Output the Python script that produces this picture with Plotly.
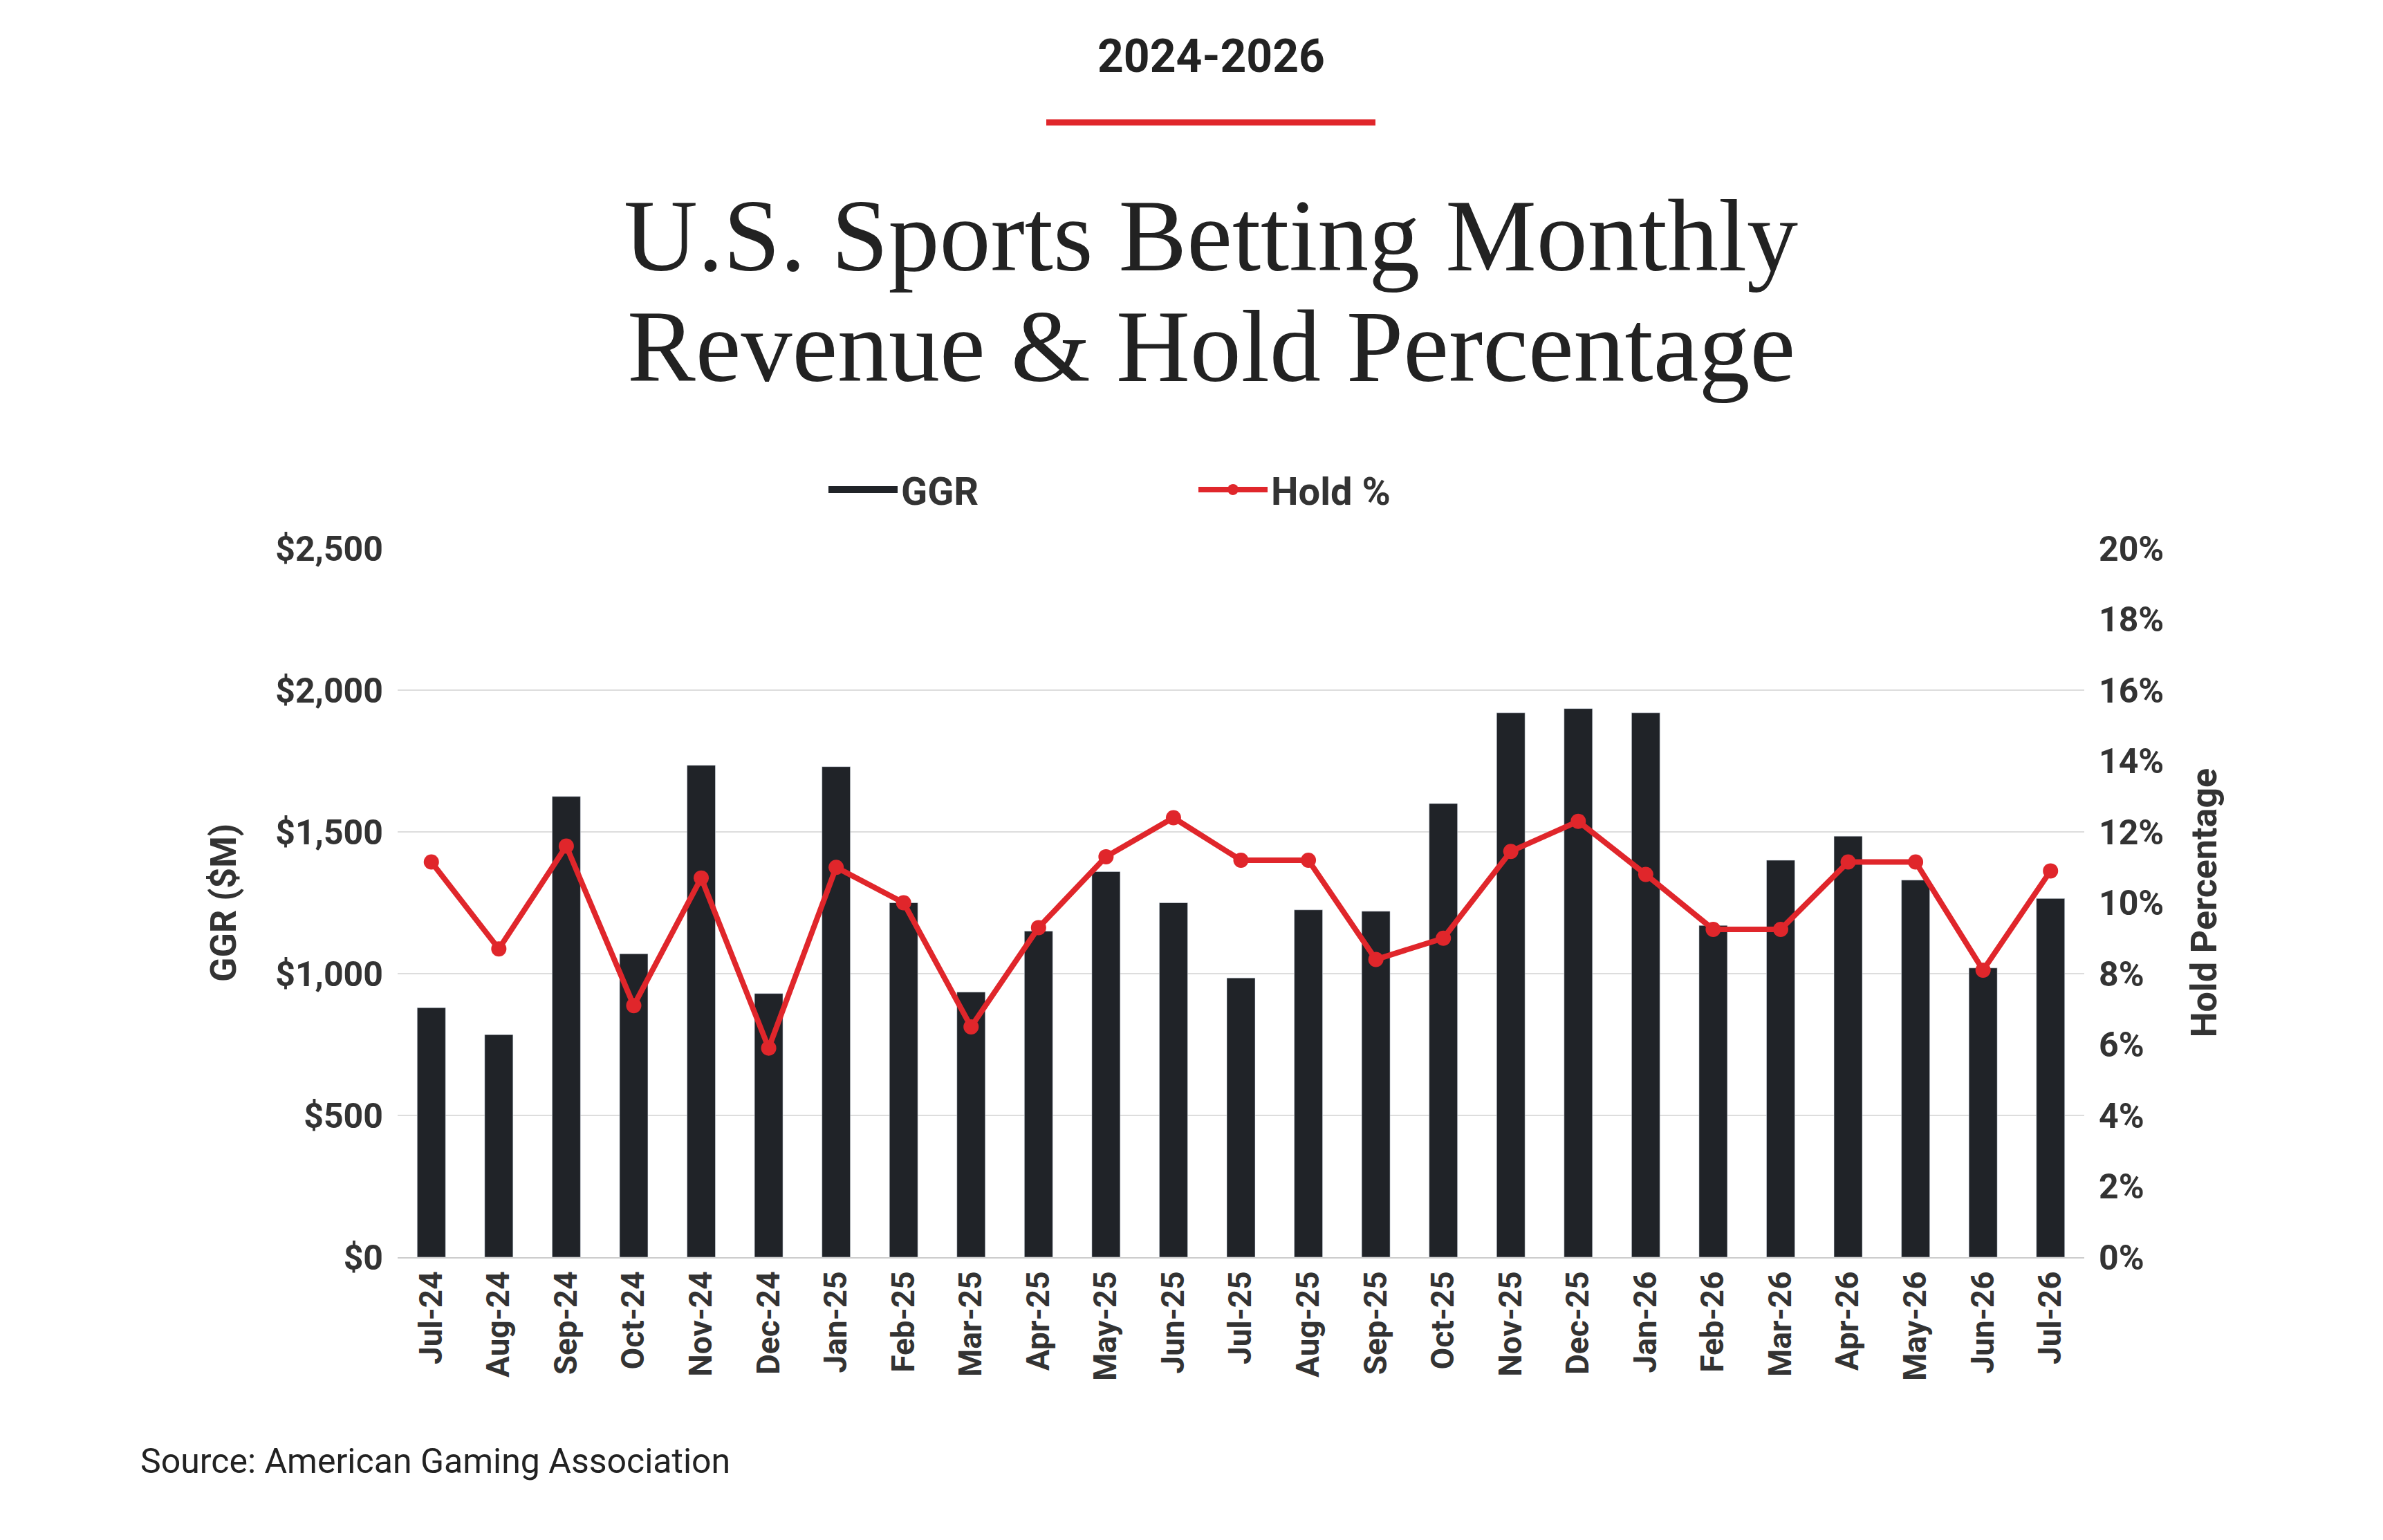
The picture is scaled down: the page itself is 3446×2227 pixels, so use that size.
import plotly.graph_objects as go

months = ["Jul-24","Aug-24","Sep-24","Oct-24","Nov-24","Dec-24","Jan-25","Feb-25","Mar-25","Apr-25","May-25","Jun-25",
          "Jul-25","Aug-25","Sep-25","Oct-25","Nov-25","Dec-25","Jan-26","Feb-26","Mar-26","Apr-26","May-26","Jun-26","Jul-26"]
ggr = [880,785,1625,1070,1735,930,1730,1250,935,1150,1360,1250,985,1225,1220,1600,1920,1935,1920,1170,1400,1485,1330,1020,1265]
hold = [11.15,8.7,11.6,7.1,10.7,5.9,11.0,10.0,6.5,9.3,11.3,12.4,11.2,11.2,8.4,9.0,11.45,12.3,10.8,9.25,9.25,11.15,11.15,8.1,10.9]

W, H = 3446, 2227
L, R, T, B = 567, 440, 785, 417
PH = H - T - B
PW = W - L - R
def py(ypx): return (H - B - ypx) / PH
def px(xpx): return (xpx - L) / PW

DARK = "#202328"
RED = "#e0262b"
SANS = "Roboto, Liberation Sans, sans-serif"
SERIF = "Liberation Serif, DejaVu Serif, serif"

fig = go.Figure()
fig.add_trace(go.Bar(x=months, y=ggr, name="GGR", marker_color=DARK, width=0.42, yaxis="y", showlegend=False))
fig.add_trace(go.Scatter(x=[None], y=[None], name="GGR", mode="lines", yaxis="y",
                         line=dict(color=DARK, width=30), legendrank=1))
fig.add_trace(go.Scatter(x=months, y=hold, name="Hold %", mode="lines+markers", yaxis="y2", legendrank=2,
                         line=dict(color=RED, width=8), marker=dict(color=RED, size=22)))

fig.update_layout(
    width=W, height=H, margin=dict(l=L, r=R, t=T, b=B, autoexpand=False),
    paper_bgcolor="white", plot_bgcolor="white",
    font=dict(family=SANS, color="#333", size=48),
    xaxis=dict(tickangle=-90, tickfont=dict(size=46, color="#333", weight="bold"), showgrid=False,
               showline=True, linecolor="#cccccc", linewidth=2, ticks="", range=[-0.5, 24.5], automargin=False),
    yaxis=dict(range=[0, 2500], dtick=500, tickprefix="$", tickformat=",", showgrid=True,
               gridcolor="#dddddd", gridwidth=2, zeroline=False, automargin=False,
               tickfont=dict(size=50, color="#333", weight="bold"), ticklabelstandoff=20,
               title=dict(text="GGR ($M)", font=dict(size=52, color="#333", weight="bold"), standoff=40)),
    yaxis2=dict(range=[0, 20], dtick=2, ticksuffix="%", overlaying="y", side="right", showgrid=False,
                zeroline=False, automargin=False, ticklabelstandoff=20,
                tickfont=dict(size=50, color="#333", weight="bold"),
                title=dict(text="Hold Percentage", font=dict(size=52, color="#333", weight="bold"), standoff=40)),
    legend=dict(orientation="h", x=px(1720), xanchor="center", y=py(700), yanchor="middle",
                font=dict(size=56, color="#333", weight="bold"), itemwidth=100,
                entrywidthmode="pixels", entrywidth=420, traceorder="normal"),
    showlegend=True,
)

anns = [
    dict(text="<b>2024-2026</b>", y=py(73), font=dict(size=66, color="#222", family=SANS)),
    dict(text="U.S. Sports Betting Monthly", y=py(333), font=dict(size=148, color="#222", family=SERIF)),
    dict(text="Revenue &amp; Hold Percentage", y=py(493), font=dict(size=148, color="#222", family=SERIF)),
]
for a in anns:
    fig.add_annotation(xref="paper", yref="paper", xanchor="center", yanchor="middle", showarrow=False,
                       x=px(1743), y=a["y"], text=a["text"], font=a["font"])
fig.add_annotation(xref="paper", yref="paper", xanchor="left", yanchor="middle", showarrow=False,
                   x=px(193), y=py(2105), text="Source: American Gaming Association",
                   font=dict(size=50, color="#222", family=SANS))
fig.add_shape(type="line", xref="paper", yref="paper", x0=px(1505), x1=px(1981), y0=py(169), y1=py(169),
              line=dict(color=RED, width=9))

fig.write_html("out.html")
